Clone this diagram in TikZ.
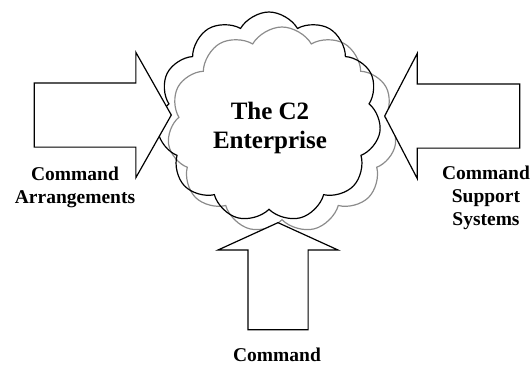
\documentclass[tikz,border=0pt]{standalone}
\usepackage{fontspec}
\setmainfont{Liberation Serif}
\usetikzlibrary{shapes.symbols,shapes.arrows,positioning}

\tikzset{
	puffy/.style={cloud,cloud puffs=11,cloud puff arc=120,cloud ignores aspect,draw,line width=1.2pt,inner sep=0pt},
	blockarrow/.style={single arrow,draw,fill=white,line width=1.2pt,inner xsep=0pt,anchor=tip},
	lbl/.style={font=\bfseries\fontsize{19.5}{23}\selectfont,align=center,inner sep=0pt}
}

\begin{document}
\begin{tikzpicture}[x=1pt,y=-1pt]
	\useasboundingbox (0,0) rectangle (532,368);

	% the cloud, grey copy behind
	\node[puffy,draw=black!45,minimum width=229pt,minimum height=206pt] (shadow) at (282,130) {};
	\node[puffy,minimum width=224pt,minimum height=210pt] (cloud) at (269,117) {};
	\node[font=\bfseries\fontsize{25}{29}\selectfont,align=center] (title) at (270,128) {The C2\\Enterprise};

	% arrows into the cloud
	\node[blockarrow,inner ysep=31.5pt,single arrow head extend=30.5pt,single arrow tip angle=121,minimum height=137pt] (arrL) at (172,115) {};
	\node[blockarrow,inner ysep=31.5pt,single arrow head extend=30.5pt,single arrow tip angle=125,minimum height=135pt,rotate=180] (arrR) at (384,116) {};
	\node[blockarrow,inner ysep=29.5pt,single arrow head extend=30pt,single arrow tip angle=131,minimum height=107pt,rotate=90] (arrB) at (278,222) {};

	\node[lbl] (arrLtext) at (75,187) {Command\\Arrangements};
	\node[lbl] (arrRtext) at (486,198) {Command\\Support\\Systems};
	\node[lbl] (arrBtext) at (277,355) {Command};
\end{tikzpicture}
\end{document}
